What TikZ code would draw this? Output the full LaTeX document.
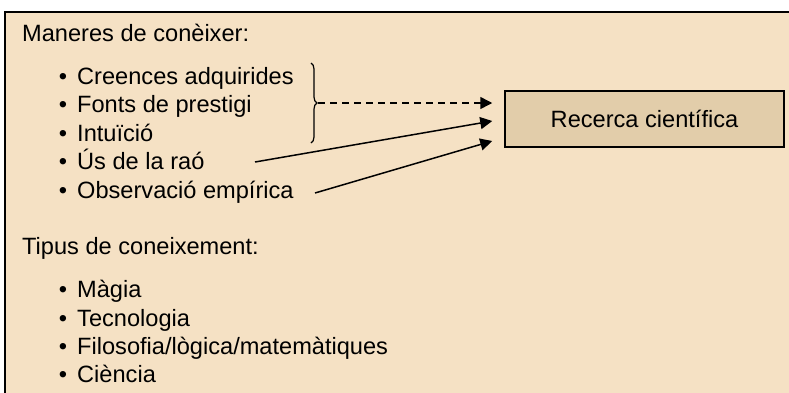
\documentclass[tikz,border=0pt]{standalone}
\usepackage{fontspec}
\setmainfont{Liberation Sans}
\usetikzlibrary{arrows.meta,decorations.pathreplacing}
\definecolor{outerbg}{RGB}{245,225,196}
\definecolor{innerbg}{RGB}{226,205,170}
\tikzset{
  txt/.style={anchor=base west, inner sep=0pt, font=\fontsize{23.6}{28}\selectfont},
  bul/.style={anchor=base, inner sep=0pt, font=\fontsize{23.6}{28}\selectfont},
  conn/.style={line width=1.5pt, -{Triangle[length=12pt,width=12pt]}},
  rcbox/.style={draw, line width=1.5pt, fill=innerbg, minimum width=279pt, minimum height=56pt, inner sep=0pt, font=\fontsize{23.6}{28}\selectfont},
}
\begin{document}
\begin{tikzpicture}[x=1pt,y=-1pt]
\useasboundingbox (0,0) rectangle (789,392);
\begin{scope}
\clip (0,0) rectangle (789,392);
\draw[line width=2pt, fill=outerbg] (5,12) rectangle (820,420);
\end{scope}
\node[txt] (h1) at (22,41) {Maneres de conèixer:};
\foreach \n/\t/\y in {a/{Creences adquirides}/84, b/{Fonts de prestigi}/112, c/{Intuïció}/141, d/{Ús de la raó}/169, e/{Observació empírica}/198}{
  \node[bul] (b\n) at (63,\y) {•};
  \node[txt] (i\n) at (77,\y) {\t};
}
\node[txt] (h2) at (22,254) {Tipus de coneixement:};
\foreach \n/\t/\y in {f/{Màgia}/297, g/{Tecnologia}/326, h/{Filosofia/lògica/matemàtiques}/354, k/{Ciència}/382}{
  \node[bul] (b\n) at (63,\y) {•};
  \node[txt] (i\n) at (77,\y) {\t};
}
\node[rcbox] (rc) at (644.5,119) {Recerca científica};
\coordinate (bt) at (311,63);
\coordinate (bb) at (311,143);
\draw[line width=1.2pt, decorate, decoration={brace, amplitude=6pt}] (bt) -- (bb);
\coordinate (tip) at (318,103);
\coordinate (sd) at (255,162);
\coordinate (se) at (315,193);
\draw[conn, dash pattern=on 7pt off 5pt] (tip) -- ([xshift=-12pt,yshift=16pt]rc.west);
\draw[conn] (sd) -- ([xshift=-12pt,yshift=-2pt]rc.west);
\draw[conn] (se) -- ([xshift=-12pt,yshift=-22pt]rc.west);
\end{tikzpicture}
\end{document}
